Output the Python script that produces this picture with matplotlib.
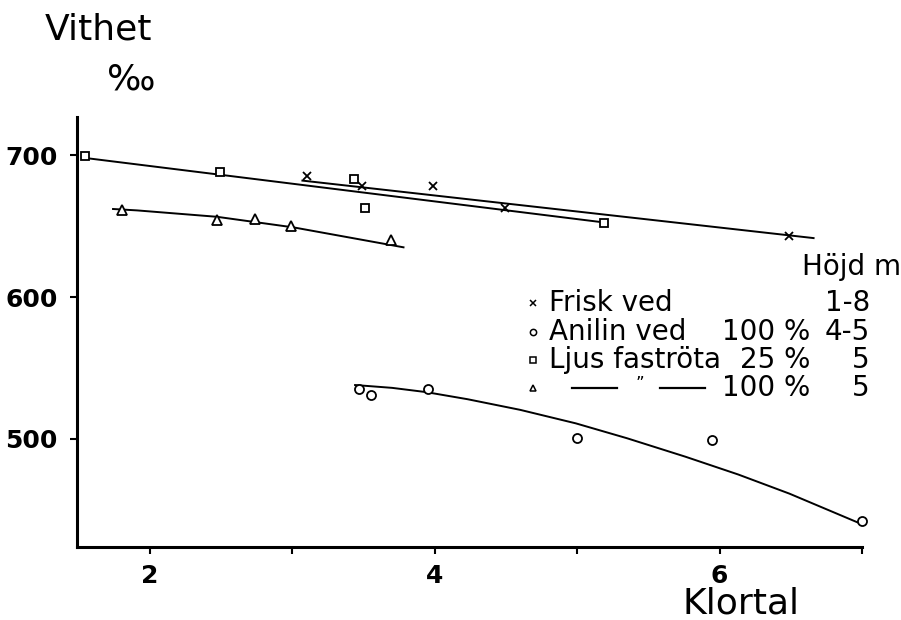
import matplotlib
matplotlib.use("Agg")
import matplotlib.pyplot as plt
from matplotlib.lines import Line2D

# measured points (Klortal, Vithet ‰)
frisk_x = [3.10, 3.49, 3.99, 4.49, 6.49]
frisk_y = [685, 678, 678, 663, 643]
anilin_x = [3.47, 3.55, 3.95, 5.00, 5.95, 7.00]
anilin_y = [535, 531, 535, 501, 499, 442]
ljus25_x = [1.54, 2.49, 3.43, 3.51, 5.19]
ljus25_y = [699, 688, 683, 663, 652]
ljus100_x = [1.80, 2.47, 2.74, 2.99, 3.69]
ljus100_y = [661, 654, 655, 650, 640]

# hand drawn curves
frisk_fit_x = [3.07, 6.66]
frisk_fit_y = [682, 641.5]
ljus25_fit_x = [1.54, 5.19]
ljus25_fit_y = [698, 652.5]
ljus100_fit_x = [1.74, 1.91, 2.47, 3.01, 3.78]
ljus100_fit_y = [662, 661, 656.5, 649, 635]
anilin_fit_x = [3.44, 3.70, 3.94, 4.23, 4.60, 4.99, 5.35, 5.76, 6.13, 6.49, 7.01]
anilin_fit_y = [538, 536, 533, 528, 520.5, 511, 500.5, 487.5, 475, 461.5, 439.5]

x_ticks = [2, 3, 4, 5, 6, 7]
x_labels = ['2', '', '4', '', '6', '']
y_ticks = [500, 600, 700]
y_labels = ['500', '600', '700']

legend_names = ['Frisk ved', 'Anilin ved', 'Ljus faströta', '']
legend_pct = ['', '100 %', '25 %', '100 %']
legend_hojd = ['1-8', '4-5', '5', '5']
legend_marks = ['x', 'o', 's', '^']

W, H = 901, 620
fig = plt.figure(figsize=(W / 100, H / 100), dpi=100)
ax = fig.add_axes([77 / W, 1 - 547 / H, (862 - 77) / W, (547 - 117) / H])

lw = 1.4
ax.plot(frisk_fit_x, frisk_fit_y, color='black', lw=lw)
ax.plot(ljus25_fit_x, ljus25_fit_y, color='black', lw=lw)
ax.plot(ljus100_fit_x, ljus100_fit_y, color='black', lw=lw)
ax.plot(anilin_fit_x, anilin_fit_y, color='black', lw=lw)

mk = dict(ls='none', color='black', mfc='white', mec='black', mew=1.3, clip_on=False, zorder=3)
ax.plot(frisk_x, frisk_y, marker='x', ms=6, **mk)
ax.plot(anilin_x, anilin_y, marker='o', ms=6.5, **mk)
ax.plot(ljus25_x, ljus25_y, marker='s', ms=5.5, **mk)
ax.plot(ljus100_x, ljus100_y, marker='^', ms=7, **mk)

ax.set_xlim(1.487, 7.0)
ax.set_ylim(423.9, 726.8)
ax.set_xticks(x_ticks)
ax.set_xticklabels(x_labels, fontweight='bold')
ax.set_yticks(y_ticks)
ax.set_yticklabels(y_labels, fontweight='bold')
ax.tick_params(direction='out', length=5, width=1.5, labelsize=18)
ax.tick_params(axis='x', pad=7)
ax.tick_params(axis='y', pad=9)

for s in ['top', 'right']:
    ax.spines[s].set_visible(False)
for s in ['left', 'bottom']:
    ax.spines[s].set_linewidth(2.2)

fig.text(45 / W, 1 - 30 / H, 'Vithet', fontsize=26, va='center', ha='left')
fig.text(107 / W, 1 - 79 / H, '\u2030', fontsize=26, va='center', ha='left')
fig.text(741 / W, 1 - 604 / H, 'Klortal', fontsize=26, va='center', ha='center')

# legend block
fs = 20
fig.text(802 / W, 1 - 267 / H, 'Höjd m', fontsize=fs, va='center', ha='left')
row_y = [303, 332, 360, 388]
for i, yy in enumerate(row_y):
    yf = 1 - yy / H
    ax.plot([533 / W], [yf], marker=legend_marks[i], ms=4.5, ls='none',
            mfc='white', mec='black', mew=1.1, transform=fig.transFigure, clip_on=False)
    if legend_names[i]:
        fig.text(549 / W, yf, legend_names[i], fontsize=fs, va='center', ha='left')
    if legend_pct[i]:
        fig.text(810 / W, yf, legend_pct[i], fontsize=fs, va='center', ha='right')
    fig.text(870 / W, yf, legend_hojd[i], fontsize=fs, va='center', ha='right')

# ditto row: "—— " ——"
yd = 1 - 388 / H
for x0, x1 in [(572, 617), (660, 705)]:
    fig.add_artist(Line2D([x0 / W, x1 / W], [yd, yd], color='black', lw=1.6))
fig.text(640 / W, 1 - 384 / H, '\u201d', fontsize=12, va='center', ha='center')

fig.savefig('out.png', dpi=100)
